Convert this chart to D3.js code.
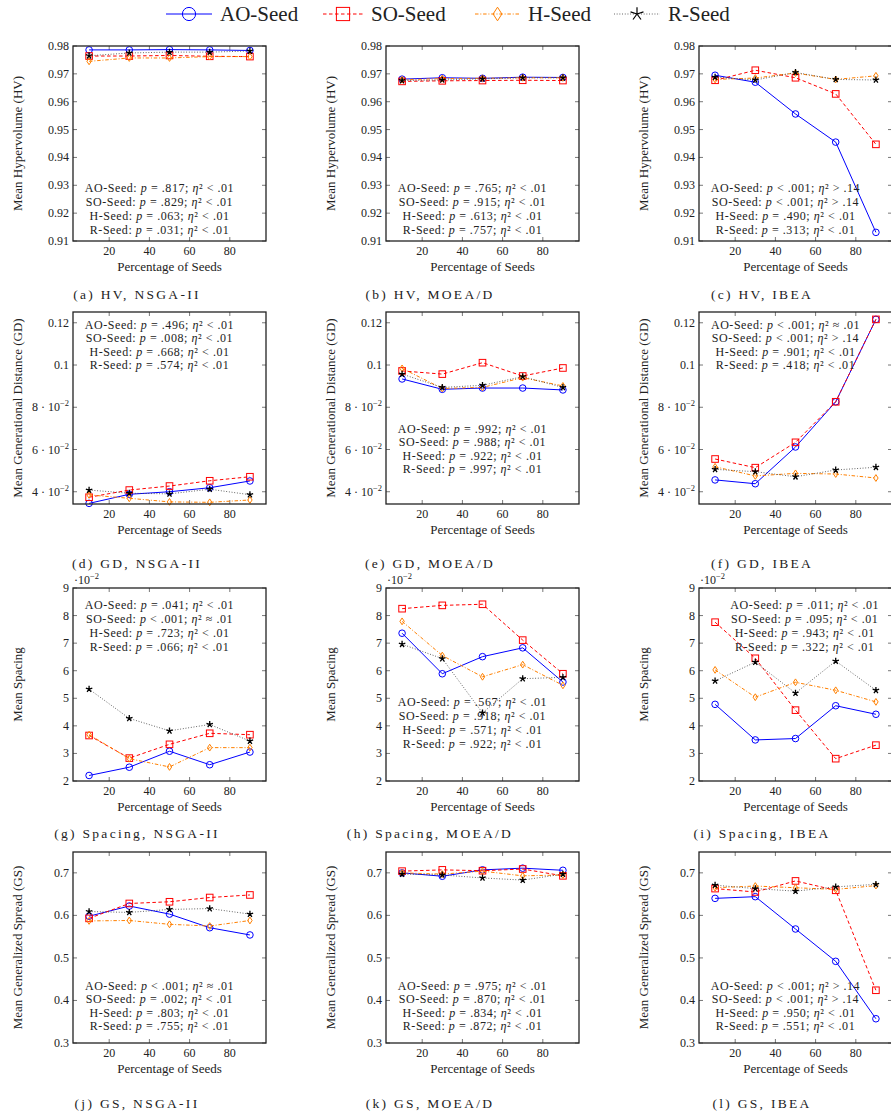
<!DOCTYPE html>
<html><head><meta charset="utf-8">
<script src="https://cdn.jsdelivr.net/npm/d3@7"></script>
<style>
body{margin:0;background:#fff}
text{font-family:"Liberation Serif","Times New Roman",serif;fill:#222}
</style>
</head><body>
<svg id="c" width="891" height="1115"></svg>
<script>
// ---------- DATA ----------
const seeds = [10, 30, 50, 70, 90];
const seriesNames = ["AO-Seed", "SO-Seed", "H-Seed", "R-Seed"];
const xTicks = [20, 40, 60, 80];
const hvTicks = [0.91, 0.92, 0.93, 0.94, 0.95, 0.96, 0.97, 0.98];
const gdTicks = [0.04, 0.06, 0.08, 0.10, 0.12];
const spTicks = [0.02, 0.03, 0.04, 0.05, 0.06, 0.07, 0.08, 0.09];
const gsTicks = [0.3, 0.4, 0.5, 0.6, 0.7];

// rows: AO, SO, H, R
const hvNSGA = [
  [0.9786, 0.9786, 0.9787, 0.9786, 0.9784],
  [0.9764, 0.9764, 0.9766, 0.9763, 0.9762],
  [0.9745, 0.9757, 0.9757, 0.9762, 0.9762],
  [0.9765, 0.9775, 0.9778, 0.9778, 0.9782]];
const hvMOEAD = [
  [0.9681, 0.9686, 0.9684, 0.9688, 0.9687],
  [0.9673, 0.9675, 0.9676, 0.9677, 0.9676],
  [0.9679, 0.9683, 0.9684, 0.9686, 0.9686],
  [0.9676, 0.9678, 0.9682, 0.9686, 0.9686]];
const hvIBEA = [
  [0.9695, 0.9670, 0.9556, 0.9455, 0.9131],
  [0.9677, 0.9713, 0.9686, 0.9628, 0.9447],
  [0.9680, 0.9685, 0.9703, 0.9680, 0.9693],
  [0.9688, 0.9678, 0.9705, 0.9680, 0.9678]];
const gdNSGA = [
  [0.0345, 0.0388, 0.0400, 0.0419, 0.0451],
  [0.0374, 0.0408, 0.0427, 0.0452, 0.0471],
  [0.0385, 0.0369, 0.0352, 0.0350, 0.0361],
  [0.0408, 0.0393, 0.0390, 0.0412, 0.0386]];
const gdMOEAD = [
  [0.0934, 0.0885, 0.0891, 0.0891, 0.0882],
  [0.0972, 0.0957, 0.1011, 0.0948, 0.0986],
  [0.0984, 0.0889, 0.0894, 0.0940, 0.0901],
  [0.0957, 0.0894, 0.0904, 0.0945, 0.0894]];
const gdIBEA = [
  [0.0456, 0.0438, 0.0612, 0.0826, 0.1216],
  [0.0555, 0.0514, 0.0634, 0.0826, 0.1216],
  [0.0518, 0.0475, 0.0487, 0.0484, 0.0465],
  [0.0506, 0.0495, 0.0471, 0.0503, 0.0516]];
const spNSGA = [
  [0.0220, 0.0250, 0.0308, 0.0259, 0.0305],
  [0.0365, 0.0283, 0.0333, 0.0373, 0.0368],
  [0.0368, 0.0281, 0.0251, 0.0321, 0.0321],
  [0.0533, 0.0427, 0.0382, 0.0405, 0.0345]];
const spMOEAD = [
  [0.0736, 0.0589, 0.0651, 0.0683, 0.0559],
  [0.0825, 0.0837, 0.0841, 0.0711, 0.0589],
  [0.0779, 0.0655, 0.0578, 0.0622, 0.0547],
  [0.0696, 0.0644, 0.0447, 0.0571, 0.0576]];
const spIBEA = [
  [0.0478, 0.0349, 0.0354, 0.0473, 0.0442],
  [0.0776, 0.0645, 0.0457, 0.0281, 0.0330],
  [0.0603, 0.0504, 0.0558, 0.0529, 0.0487],
  [0.0563, 0.0631, 0.0519, 0.0635, 0.0529]];
const gsNSGA = [
  [0.598, 0.622, 0.603, 0.571, 0.554],
  [0.593, 0.628, 0.632, 0.642, 0.648],
  [0.587, 0.588, 0.579, 0.575, 0.588],
  [0.609, 0.607, 0.614, 0.616, 0.603]];
const gsMOEAD = [
  [0.700, 0.692, 0.707, 0.711, 0.706],
  [0.704, 0.707, 0.705, 0.709, 0.693],
  [0.700, 0.697, 0.704, 0.693, 0.695],
  [0.697, 0.695, 0.688, 0.683, 0.697]];
const gsIBEA = [
  [0.640, 0.644, 0.568, 0.492, 0.357],
  [0.663, 0.655, 0.681, 0.659, 0.424],
  [0.665, 0.669, 0.665, 0.661, 0.670],
  [0.671, 0.663, 0.657, 0.667, 0.673]];

// statistics: [p relation, p value, eta relation, eta value] per series
const hvNSGAStats  = [["=",".817","<",".01"],["=",".829","<",".01"],["=",".063","<",".01"],["=",".031","<",".01"]];
const hvMOEADStats = [["=",".765","<",".01"],["=",".915","<",".01"],["=",".613","<",".01"],["=",".757","<",".01"]];
const hvIBEAStats  = [["<",".001",">",".14"],["<",".001",">",".14"],["=",".490","<",".01"],["=",".313","<",".01"]];
const gdNSGAStats  = [["=",".496","<",".01"],["=",".008","<",".01"],["=",".668","<",".01"],["=",".574","<",".01"]];
const gdMOEADStats = [["=",".992","<",".01"],["=",".988","<",".01"],["=",".922","<",".01"],["=",".997","<",".01"]];
const gdIBEAStats  = [["<",".001","≈",".01"],["<",".001",">",".14"],["=",".901","<",".01"],["=",".418","<",".01"]];
const spNSGAStats  = [["=",".041","<",".01"],["<",".001","≈",".01"],["=",".723","<",".01"],["=",".066","<",".01"]];
const spMOEADStats = [["=",".567","<",".01"],["=",".918","<",".01"],["=",".571","<",".01"],["=",".922","<",".01"]];
const spIBEAStats  = [["=",".011","<",".01"],["=",".095","<",".01"],["=",".943","<",".01"],["=",".322","<",".01"]];
const gsNSGAStats  = [["<",".001","≈",".01"],["=",".002","<",".01"],["=",".803","<",".01"],["=",".755","<",".01"]];
const gsMOEADStats = [["=",".975","<",".01"],["=",".870","<",".01"],["=",".834","<",".01"],["=",".872","<",".01"]];
const gsIBEAStats  = [["<",".001",">",".14"],["<",".001",">",".14"],["=",".950","<",".01"],["=",".551","<",".01"]];

const captions = ["(a) HV, NSGA-II","(b) HV, MOEA/D","(c) HV, IBEA",
  "(d) GD, NSGA-II","(e) GD, MOEA/D","(f) GD, IBEA",
  "(g) Spacing, NSGA-II","(h) Spacing, MOEA/D","(i) Spacing, IBEA",
  "(j) GS, NSGA-II","(k) GS, MOEA/D","(l) GS, IBEA"];

// ---------- LAYOUT ----------
const svg = d3.select("#c");
const colLeft = [73, 386, 699], plotW = 193;
const rowTop = [46, 312, 588, 852], rowBot = [241, 504, 781, 1043];
const lineGap = [13.9, 13.4, 13.9, 13.4];
const capX = [137, 430, 762], capY = [298.5, 567.5, 837.5, 1107.5];

const styles = [
  {color:"#0000ff", dash:null, mark:"circle", w:1},
  {color:"#ff0000", dash:"3.5,2.5", mark:"square", w:1},
  {color:"#ff8000", dash:"3.5,1.8,1,1.8", mark:"diamond", w:1},
  {color:"#000000", dash:"0.9,1.8", mark:"star", w:0.9, line:"#444"}
];

function drawMark(g, type, x, y, s, color) {
  if (type === "circle") {
    g.append("circle").attr("cx", x).attr("cy", y).attr("r", 3.3*s)
      .attr("fill","none").attr("stroke",color).attr("stroke-width",1);
  } else if (type === "square") {
    const h = 3.3*s;
    g.append("rect").attr("x", x-h).attr("y", y-h).attr("width", 2*h).attr("height", 2*h)
      .attr("fill","none").attr("stroke",color).attr("stroke-width",1);
  } else if (type === "diamond") {
    const w = 2.2*s, hh = 3.4*s;
    g.append("path").attr("d", `M${x},${y-hh}L${x+w},${y}L${x},${y+hh}L${x-w},${y}Z`)
      .attr("fill","none").attr("stroke",color).attr("stroke-width",1);
  } else {
    const r = 3.4*s;
    let d = "";
    for (let k = 0; k < 5; k++) {
      const a = -Math.PI/2 + k*2*Math.PI/5;
      d += `M${x},${y}L${x + r*Math.cos(a)},${y + r*Math.sin(a)}`;
    }
    g.append("path").attr("d", d).attr("fill","none").attr("stroke",color)
      .attr("stroke-width", s > 1 ? 1.2 : 1.3);
  }
}

const fmt2 = d3.format(".2f"), fmt1 = d3.format(".1f");
const rowCfg = [
  {domain:[0.91,0.98], ticks:hvTicks, fmt:d=>[fmt2(d),""], label:"Mean Hypervolume (HV)"},
  {domain:[0.0342,0.1251], ticks:gdTicks, fmt:d=> d >= 0.099 ? [d3.format(".2~f")(d),""] : [Math.round(d*100)+" · 10","−2"], label:"Mean Generational Distance (GD)"},
  {domain:[0.02,0.09], ticks:spTicks, fmt:d=>[String(Math.round(d*100)),""], label:"Mean Spacing", mult:true},
  {domain:[0.3,0.749], ticks:gsTicks, fmt:d=>[fmt1(d),""], label:"Mean Generalized Spread (GS)"}
];

const panels = [
  {r:0,c:0,data:hvNSGA, stats:hvNSGAStats, ann:[86.5,142.3]},
  {r:0,c:1,data:hvMOEAD,stats:hvMOEADStats,ann:[86.5,142.3]},
  {r:0,c:2,data:hvIBEA, stats:hvIBEAStats, ann:[86.5,142.3]},
  {r:1,c:0,data:gdNSGA, stats:gdNSGAStats, ann:[86.5,13]},
  {r:1,c:1,data:gdMOEAD,stats:gdMOEADStats,ann:[86.5,117]},
  {r:1,c:2,data:gdIBEA, stats:gdIBEAStats, ann:[86.5,13]},
  {r:2,c:0,data:spNSGA, stats:spNSGAStats, ann:[86.5,17]},
  {r:2,c:1,data:spMOEAD,stats:spMOEADStats,ann:[86.5,114.3]},
  {r:2,c:2,data:spIBEA, stats:spIBEAStats, ann:[105.7,17]},
  {r:3,c:0,data:gsNSGA, stats:gsNSGAStats, ann:[86.5,133.7]},
  {r:3,c:1,data:gsMOEAD,stats:gsMOEADStats,ann:[86.5,133.7]},
  {r:3,c:2,data:gsIBEA, stats:gsIBEAStats, ann:[86.5,133.7]}
];

panels.forEach((p, i) => {
  const cfg = rowCfg[p.r];
  const L = colLeft[p.c], R = L + plotW, T = rowTop[p.r], B = rowBot[p.r];
  const x = d3.scaleLinear().domain([2, 98]).range([L, R]);
  const y = d3.scaleLinear().domain(cfg.domain).range([B, T]);
  const g = svg.append("g");

  // ticks (inward, mirrored)
  const tk = g.append("g").attr("stroke","#555").attr("stroke-width",0.8);
  xTicks.forEach(v => {
    tk.append("line").attr("x1",x(v)).attr("x2",x(v)).attr("y1",B).attr("y2",B-4);
    tk.append("line").attr("x1",x(v)).attr("x2",x(v)).attr("y1",T).attr("y2",T+4);
  });
  cfg.ticks.forEach(v => {
    tk.append("line").attr("x1",L).attr("x2",L+4).attr("y1",y(v)).attr("y2",y(v));
    tk.append("line").attr("x1",R).attr("x2",R-4).attr("y1",y(v)).attr("y2",y(v));
  });

  // tick labels
  xTicks.forEach(v => {
    g.append("text").attr("x", x(v)).attr("y", B + 14).attr("text-anchor","middle")
      .attr("font-size", 12).text(v);
  });
  cfg.ticks.forEach(v => {
    const [main, sup] = cfg.fmt(v);
    const t = g.append("text").attr("x", L - 4).attr("y", y(v) + 4).attr("text-anchor","end")
      .attr("font-size", 12);
    t.append("tspan").text(main);
    if (sup) t.append("tspan").attr("font-size", 8.5).attr("dy", -5).text(sup);
  });
  if (cfg.mult) {
    const t = g.append("text").attr("x", L + 1).attr("y", T - 4).attr("font-size", 12);
    t.append("tspan").text("·10");
    t.append("tspan").attr("font-size", 8.5).attr("dy", -5).text("−2");
  }

  // axis labels
  g.append("text").attr("x", (L+R)/2).attr("y", B + 30).attr("text-anchor","middle")
    .attr("font-size", 13).text("Percentage of Seeds");
  g.append("text").attr("transform", `translate(${L-56},${(T+B)/2}) rotate(-90)`)
    .attr("dy","0.35em").attr("text-anchor","middle").attr("font-size", 13).text(cfg.label);

  // series
  p.data.forEach((vals, si) => {
    const st = styles[si];
    const pts = seeds.map((s, k) => [x(s), y(vals[k])]);
    g.append("path").attr("d", d3.line()(pts)).attr("fill","none")
      .attr("stroke", st.line || st.color).attr("stroke-width", st.w)
      .attr("stroke-dasharray", st.dash);
    pts.forEach(([px, py]) => drawMark(g, st.mark, px, py, 1, st.color));
  });

  // statistics annotation
  p.stats.forEach((s, k) => {
    const t = g.append("text").attr("x", L + p.ann[0]).attr("y", T + p.ann[1] + 4 + k*lineGap[p.r])
      .attr("text-anchor","middle").attr("font-size", 12).attr("letter-spacing", 0.55);
    t.append("tspan").text(seriesNames[k] + ":  ");
    t.append("tspan").attr("font-style","italic").text("p");
    t.append("tspan").text(` ${s[0]} ${s[1]}; `);
    t.append("tspan").attr("font-style","italic").text("η");
    t.append("tspan").text(`² ${s[2]} ${s[3]}`);
  });

  // frame
  g.append("rect").attr("x", L).attr("y", T).attr("width", plotW).attr("height", B - T)
    .attr("fill","none").attr("stroke","#222").attr("stroke-width",1.3);

  // caption
  svg.append("text").attr("x", capX[p.c]).attr("y", capY[p.r]).attr("text-anchor","middle")
    .attr("font-size", 13.5).attr("letter-spacing", 2.3).text(captions[i]);
});

// ---------- LEGEND ----------
const legLineX = [[166,212],[323,363],[475,520],[614,660]];
const legY = 14;
seriesNames.forEach((name, i) => {
  const st = styles[i];
  const [a, b] = legLineX[i];
  svg.append("line").attr("x1", a).attr("x2", b).attr("y1", legY).attr("y2", legY)
    .attr("stroke", st.line || st.color).attr("stroke-width", st.w).attr("stroke-dasharray", st.dash);
  drawMark(svg, st.mark, (a+b)/2, legY, 2, st.color);
  svg.append("text").attr("x", b + 8).attr("y", legY + 7).attr("font-size", 21).text(name);
});
</script>
</body></html>
